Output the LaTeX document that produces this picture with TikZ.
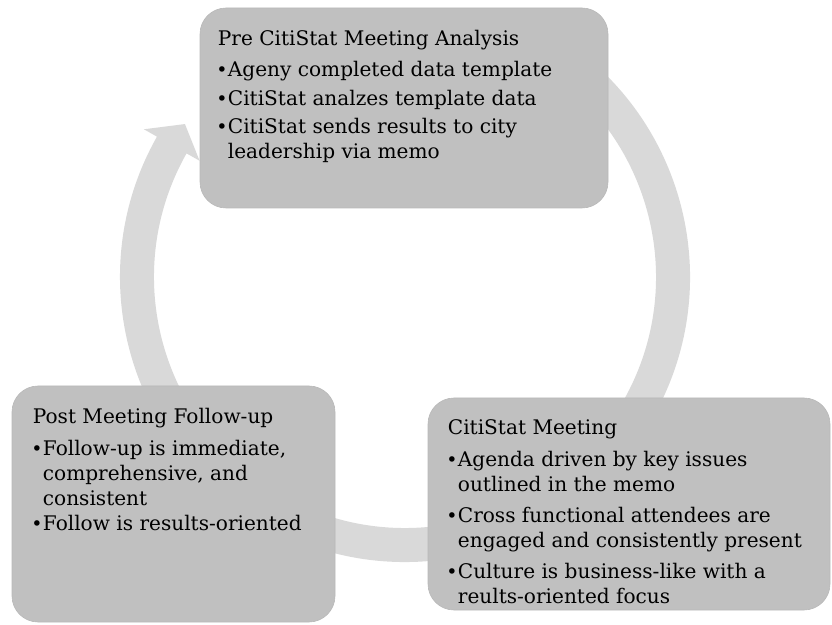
\documentclass[tikz,border=0pt]{standalone}
\usepackage{fontspec}
\setmainfont{DejaVu Serif}
\usetikzlibrary{calc,positioning}
\definecolor{stagegray}{RGB}{192,192,192}
\definecolor{ringgray}{RGB}{217,217,217}
\newcommand{\blt}{\makebox[10pt][l]{\hspace*{-1.5pt}\fontsize{19}{19}\selectfont\textbullet}}
\newcommand{\ind}{\hspace*{10pt}}

\begin{document}
\begin{tikzpicture}[x=1pt,y=1pt,
  stage/.style={fill=stagegray,draw=black!28,line width=0.6pt,rounded corners=26pt,inner sep=0pt},
  stagetext/.style={anchor=north west,align=left,inner sep=0pt,font=\fontsize{20.1}{25}\selectfont}]
  \useasboundingbox (0,0) rectangle (832,624);
  \coordinate (hub) at (405,347);
  % cycle ring with its head
  \fill[ringgray] ($(hub)+(60:285)$) arc[start angle=60,end angle=-209.5,radius=285]
        -- ($(hub)+(150.5:300)$) -- ($(hub)+(145.2:268)$) -- ($(hub)+(150.5:236)$)
        -- ($(hub)+(150.5:251)$) arc[start angle=-209.5,end angle=60,radius=251] -- cycle;
  % the three stages
  \node[stage,minimum width=408,minimum height=200] (pre)  at (404,516) {};
  \node[stage,minimum width=402,minimum height=212] (meet) at (629,120) {};
  \node[stage,minimum width=323,minimum height=236] (post) at (173.5,120) {};
  \node[stagetext,below right=22pt and 18pt of pre.north west] (pretext)
    {Pre CitiStat Meeting Analysis\\[6pt]
     \blt Ageny completed data template\\[4pt]
     \blt CitiStat analzes template data\\[3pt]
     \blt CitiStat sends results to city\\
     \ind leadership via memo};
  \node[stagetext,below right=22pt and 20pt of meet.north west] (meettext)
    {CitiStat Meeting\\[7pt]
     \blt Agenda driven by key issues\\
     \ind outlined in the memo\\[6pt]
     \blt Cross functional attendees are\\
     \ind engaged and consistently present\\[6pt]
     \blt Culture is business-like with a\\
     \ind reults-oriented focus};
  \node[stagetext,below right=22pt and 21pt of post.north west] (posttext)
    {Post Meeting Follow-up\\[7pt]
     \blt Follow-up is immediate,\\
     \ind comprehensive, and\\
     \ind consistent\\[0pt]
     \blt Follow is results-oriented};
\end{tikzpicture}
\end{document}
